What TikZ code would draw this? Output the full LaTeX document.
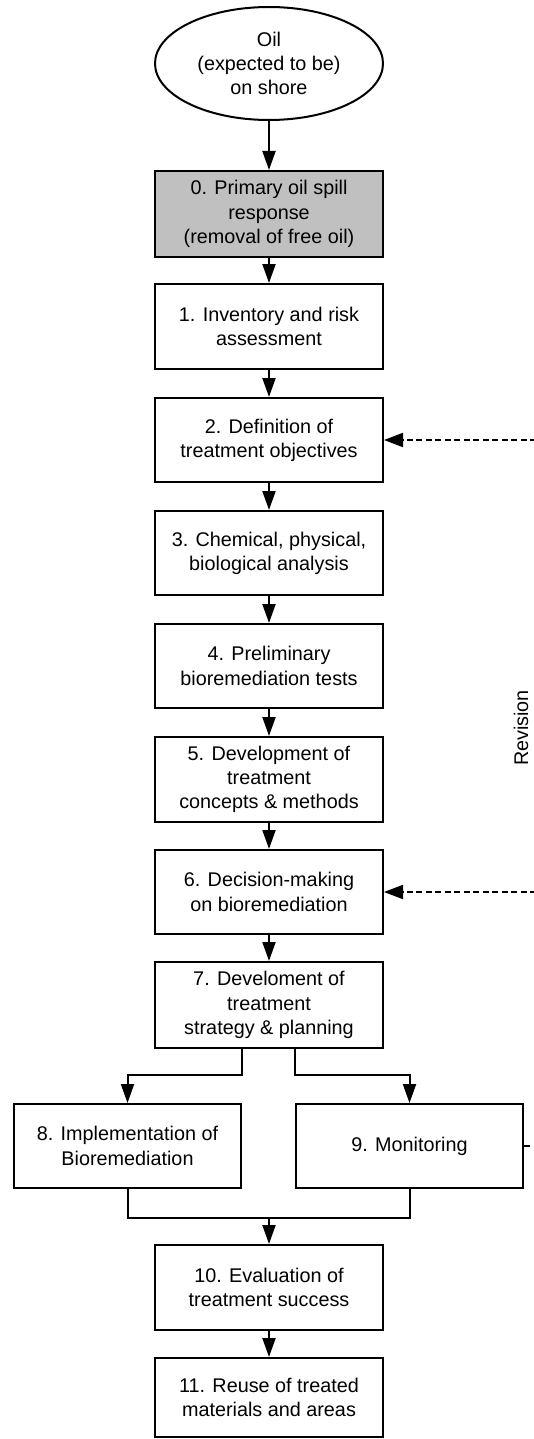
\documentclass[tikz,border=0pt]{standalone}
\usepackage{fontspec}
\setmainfont{Liberation Sans}
\usetikzlibrary{arrows.meta,shapes.geometric,calc}

\definecolor{greybox}{RGB}{192,192,192}

\tikzset{
  base/.style={draw=black, line width=2pt, align=center, inner sep=0pt,
    font=\fontsize{19.8}{24.2}\selectfont},
  stepbox/.style={base, rectangle, minimum width=228pt, minimum height=85pt},
  halfbox/.style={base, rectangle, minimum width=227pt, minimum height=84pt},
  startnode/.style={base, ellipse, minimum width=228pt, minimum height=113pt},
  flow/.style={line width=2pt, -{Triangle[length=19pt,width=13pt]}},
  link/.style={line width=2pt},
  revise/.style={line width=2pt, dash pattern=on 6pt off 3.5pt,
    -{Triangle[length=19pt,width=14pt]}},
  reviseline/.style={line width=2pt, dash pattern=on 6pt off 3.5pt},
}

\begin{document}
\begin{tikzpicture}[x=1pt,y=-1pt]
  \useasboundingbox (0,0) rectangle (534,1439);
  \begin{scope}
  \clip (0,0) rectangle (534,1439);

  % start
  \node[startnode] (oil) at (269,63.5) {Oil\\(expected to be)\\on shore};

  % main chain
  \node[stepbox, fill=greybox, minimum height=86pt] (b0) at (269,214)
    {0. Primary oil spill\\response\\(removal of free oil)};
  \node[stepbox] (b1) at (269,326.5) {1. Inventory and risk\\assessment};
  \node[stepbox, minimum height=84pt] (b2) at (269,440) {2. Definition of\\treatment objectives};
  \node[stepbox, minimum height=84pt] (b3) at (269,553) {3. Chemical, physical,\\biological analysis};
  \node[stepbox, minimum height=84pt] (b4) at (269,666) {4. Preliminary\\bioremediation tests};
  \node[stepbox] (b5) at (269,779.5) {5. Development of\\treatment\\concepts \& methods};
  \node[stepbox, minimum height=84pt] (b6) at (269,892) {6. Decision-making\\on bioremediation};
  \node[stepbox, minimum height=86pt] (b7) at (269,1005) {7. Develoment of\\treatment\\strategy \& planning};

  % parallel branch
  \node[halfbox] (b8) at (127.5,1146) {8. Implementation of\\Bioremediation};
  \node[halfbox] (b9) at (409.5,1146) {9. Monitoring};

  % final steps
  \node[stepbox] (b10) at (269,1287.5) {10. Evaluation of\\treatment success};
  \node[stepbox, minimum height=79pt] (b11) at (269,1397.5) {11. Reuse of treated\\materials and areas};

  % revision label
  \node[font=\fontsize{19.8}{24.2}\selectfont, rotate=90, inner sep=0pt] (rev) at (521,728) {Revision};

  % straight flow
  \draw[flow] (oil) -- (b0);
  \draw[flow] (b0) -- (b1);
  \draw[flow] (b1) -- (b2);
  \draw[flow] (b2) -- (b3);
  \draw[flow] (b3) -- (b4);
  \draw[flow] (b4) -- (b5);
  \draw[flow] (b5) -- (b6);
  \draw[flow] (b6) -- (b7);

  % split into implementation and monitoring
  \draw[flow] (b7.south -| b8.east) |- ($(b8.north)+(0,-28)$) -- (b8.north);
  \draw[flow] (b7.south -| b9.west) |- ($(b9.north)+(0,-28)$) -- (b9.north);

  % join into evaluation
  \coordinate (join) at ($(b8.south)+(0,29)$);
  \draw[link] (b8.south) -- (join) -| (b9.south);
  \draw[flow] (join -| b10.north) -- (b10.north);
  \draw[flow] (b10) -- (b11);

  % revision loops
  \coordinate (edge) at (536,0);
  \draw[revise] (b2.east -| edge) -- (b2.east);
  \draw[revise] (b6.east -| edge) -- (b6.east);
  \draw[reviseline] (b9.east) -- (b9.east -| edge);
  \end{scope}
\end{tikzpicture}
\end{document}
